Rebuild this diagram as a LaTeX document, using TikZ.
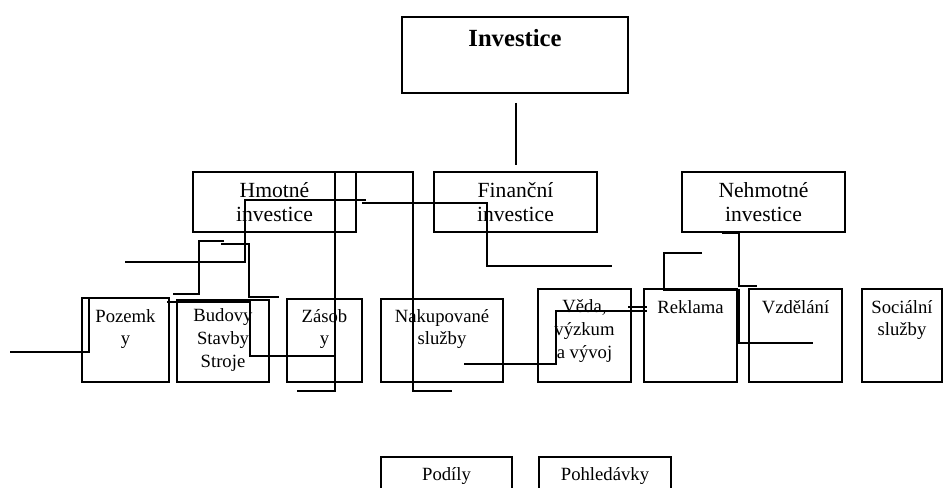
\documentclass[tikz,border=0pt]{standalone}
\usepackage{fontspec}
\setmainfont{Liberation Serif}
\usetikzlibrary{fit}
\begin{document}
\begin{tikzpicture}[x=0.75pt,y=-0.75pt,
  box/.style={draw, line width=1.3pt, inner sep=0pt},
  wire/.style={line width=1.3pt},
  big/.style={font=\fontsize{16.2}{18}\selectfont, align=center, anchor=base, inner sep=0pt},
  small/.style={font=\fontsize{14}{17}\selectfont, align=center, anchor=base, inner sep=0pt},
]
\useasboundingbox (0,0) rectangle (945,488);
% boxes
\node[box, fit={(402,17)(628,93)}] (inv) {};
\node[font=\bfseries\fontsize{18.5}{22}\selectfont, anchor=base, inner sep=0pt] (invT) at (515,47) {Investice};
\node[box, fit={(193,172)(356,232)}] (hm) {};
\node[box, fit={(434,172)(597,232)}] (fi) {};
\node[box, fit={(682,172)(845,232)}] (ne) {};
\node[big] (hmT) at (274.5,222) {Hmotné\\investice};
\node[big] (fiT) at (515.5,222) {Finanční\\investice};
\node[big] (neT) at (763.5,222) {Nehmotné\\investice};

\node[box, fit={(82,298)(169,382)}] (po) {};
\node[box, fit={(177,300)(269,382)}] (bu) {};
\node[box, fit={(287,299)(362,382)}] (za) {};
\node[box, fit={(381,299)(503,382)}] (na) {};
\node[box, fit={(538,289)(631,382)}] (ve) {};
\node[box, fit={(644,289)(737,382)}] (re) {};
\node[box, fit={(749,289)(842,382)}] (vz) {};
\node[box, fit={(862,289)(942,382)}] (so) {};
\node[box, fit={(381,457)(512,495)}] (pd) {};
\node[box, fit={(539,457)(671,495)}] (ph) {};

\node[small] (poT) at (125.5,344.7) {Pozemk\\y};
\node[small] (buT) at (223,367.3) {Budovy\\Stavby\\Stroje};
\node[small] (zaT) at (324.5,344.7) {Zásob\\y};
\node[small] (naT) at (442,344.7) {Nakupované\\služby};
\node[small] (veT) at (584.5,358.3) {Věda,\\výzkum\\a vývoj};
\node[small] (reT) at (690.5,313) {Reklama};
\node[small] (vzT) at (795.5,313) {Vzdělání};
\node[small] (soT) at (902,335.7) {Sociální\\služby};
\node[small] (pdT) at (446.5,480) {Podíly};
\node[small] (phT) at (605,480) {Pohledávky};

% stray connectors
\draw[wire] (516,103) -- (516,165);
\draw[wire] (366,200) -- (245,200) -- (245,262) -- (125,262);
\draw[wire] (362,203) -- (487,203) -- (487,266) -- (612,266);
\draw[wire] (224,241) -- (199,241) -- (199,294) -- (173,294);
\draw[wire] (221,244) -- (249,244) -- (249,297) -- (279,297);
\draw[wire] (10,352) -- (89,352) -- (89,298) -- (169,298);
\draw[wire] (167,302) -- (250,302) -- (250,356) -- (335,356);
\draw[wire] (297,391) -- (335,391) -- (335,172) -- (413,172) -- (413,391) -- (452,391);
\draw[wire] (464,364) -- (556,364) -- (556,311) -- (647,311);
\draw[wire] (628,307) -- (647,307);
\draw[wire] (702,253) -- (664,253) -- (664,290) -- (739,290) -- (739,343) -- (813,343);
\draw[wire] (722,233) -- (739,233) -- (739,286) -- (757,286);
\end{tikzpicture}
\end{document}
